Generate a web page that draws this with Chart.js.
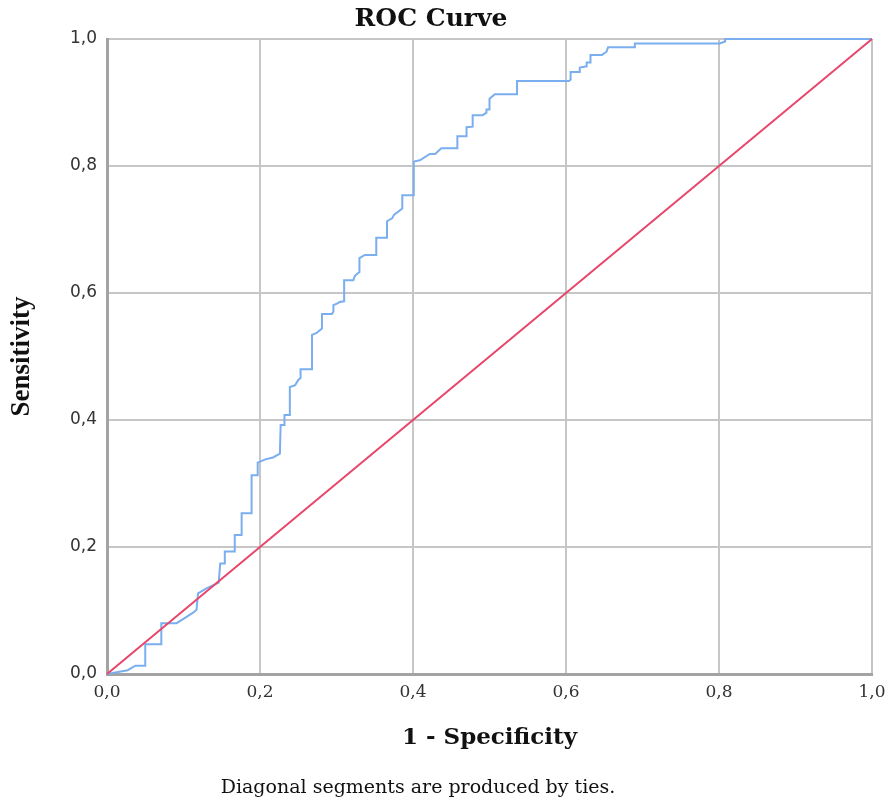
<!DOCTYPE html>
<html>
<head>
<meta charset="utf-8">
<style>
  html, body { margin: 0; padding: 0; background: #ffffff; }
  #wrap { width: 888px; height: 805px; }
</style>
<script src="https://cdn.jsdelivr.net/npm/chart.js@4.4.1/dist/chart.umd.min.js"></script>
</head>
<body>
<div id="wrap"><canvas id="roc-chart" width="888" height="805"></canvas></div>
<script>
// data
var rocX = [0, 0.027, 0.037, 0.050, 0.050, 0.071, 0.071, 0.091, 0.104, 0.113, 0.117, 0.119, 0.130, 0.146,
  0.148, 0.154, 0.154, 0.167, 0.167, 0.176, 0.176, 0.189, 0.189, 0.197, 0.197, 0.207, 0.217, 0.226,
  0.227, 0.232, 0.232, 0.239, 0.239, 0.246, 0.250, 0.253, 0.253, 0.268, 0.268, 0.274, 0.281, 0.281,
  0.294, 0.296, 0.296, 0.302, 0.304, 0.310, 0.310, 0.322, 0.324, 0.330, 0.330, 0.337, 0.352, 0.352,
  0.366, 0.366, 0.373, 0.375, 0.386, 0.386, 0.401, 0.401, 0.409, 0.422, 0.429, 0.437, 0.458, 0.458,
  0.470, 0.470, 0.478, 0.478, 0.491, 0.496, 0.496, 0.500, 0.500, 0.507, 0.536, 0.536, 0.604, 0.606,
  0.606, 0.618, 0.618, 0.627, 0.627, 0.632, 0.632, 0.647, 0.653, 0.655, 0.690, 0.690, 0.801, 0.808,
  0.808, 1.0];
var rocY = [0, 0.006, 0.013, 0.013, 0.047, 0.047, 0.080, 0.080, 0.090, 0.097, 0.101, 0.127, 0.135, 0.144,
  0.174, 0.174, 0.193, 0.193, 0.219, 0.219, 0.253, 0.253, 0.313, 0.313, 0.333, 0.338, 0.341, 0.347,
  0.392, 0.392, 0.408, 0.408, 0.452, 0.455, 0.463, 0.466, 0.480, 0.480, 0.534, 0.537, 0.544, 0.567,
  0.567, 0.571, 0.581, 0.584, 0.586, 0.587, 0.620, 0.620, 0.627, 0.633, 0.655, 0.660, 0.660, 0.687,
  0.687, 0.713, 0.718, 0.723, 0.733, 0.754, 0.754, 0.807, 0.809, 0.819, 0.819, 0.828, 0.828, 0.847,
  0.847, 0.861, 0.862, 0.880, 0.880, 0.884, 0.889, 0.889, 0.906, 0.913, 0.913, 0.934, 0.934, 0.936,
  0.948, 0.948, 0.955, 0.957, 0.963, 0.963, 0.975, 0.975, 0.980, 0.987, 0.987, 0.993, 0.993, 0.996,
  1.0, 1.0];
var diagX = [0, 1];
var diagY = [0, 1];
var tickValues = [0, 0.2, 0.4, 0.6, 0.8, 1.0];

var chartTitle = 'ROC Curve';
var xTitle = '1 - Specificity';
var yTitle = 'Sensitivity';
var footNote = 'Diagonal segments are produced by ties.';

function toPoints(xs, ys) {
  var pts = [];
  for (var i = 0; i < xs.length; i++) {
    pts.push({ x: xs[i], y: ys[i] });
  }
  return pts;
}

function commaTick(value) {
  return Number(value).toFixed(1).replace('.', ',');
}

// title on top, note at the bottom
var textPlugin = {
  id: 'extraText',
  afterDraw: function (chart) {
    var c = chart.ctx;
    c.save();
    c.fillStyle = '#111111';
    c.textAlign = 'center';
    c.textBaseline = 'alphabetic';
    c.font = 'bold 25px "DejaVu Serif"';
    c.fillText(chartTitle, 431, 26);
    c.font = '19px "DejaVu Serif"';
    c.fillText(footNote, 418, 793);
    c.restore();
  }
};

var gridGrey = '#c6c6c6';
var axisGrey = '#a3a3a3';
var biru = '#7aaeef';
var merah = '#e8456a';

var ctx = document.getElementById('roc-chart').getContext('2d');
var myChart = new Chart(ctx, {
  type: 'line',
  data: {
    datasets: [{
      label: 'Reference Line',
      data: toPoints(diagX, diagY),
      borderColor: merah,
      borderWidth: 2,
      pointRadius: 0,
      fill: false,
      tension: 0,
      clip: false
    }, {
      label: 'ROC',
      data: toPoints(rocX, rocY),
      borderColor: biru,
      borderWidth: 2,
      pointRadius: 0,
      fill: false,
      tension: 0,
      clip: false
    }]
  },
  options: {
    responsive: false,
    animation: false,
    layout: { padding: { top: 39, right: 16, bottom: 0, left: 0 } },
    plugins: {
      legend: { display: false },
      tooltip: { enabled: false },
      title: { display: false }
    },
    scales: {
      x: {
        type: 'linear',
        min: 0,
        max: 1,
        afterBuildTicks: function (scale) {
          scale.ticks = tickValues.map(function (v) { return { value: v }; });
        },
        afterFit: function (scale) {
          scale.height = 131;
          scale.paddingLeft = 0;
          scale.paddingRight = 0;
        },
        grid: { color: gridGrey, lineWidth: 2, drawTicks: false },
        border: { color: axisGrey, width: 3 },
        ticks: {
          padding: 8,
          color: '#333333',
          font: { family: '"DejaVu Serif"', size: 17 },
          callback: commaTick,
          maxRotation: 0
        },
        title: {
          display: true,
          text: xTitle,
          color: '#111111',
          font: { family: '"DejaVu Serif"', size: 23, weight: 'bold' },
          padding: { top: 0, bottom: 53 }
        }
      },
      y: {
        type: 'linear',
        min: 0,
        max: 1,
        afterBuildTicks: function (scale) {
          scale.ticks = tickValues.map(function (v) { return { value: v }; });
        },
        afterFit: function (scale) {
          scale.width = 107;
          scale.paddingTop = 0;
          scale.paddingBottom = 0;
        },
        grid: { color: gridGrey, lineWidth: 2, drawTicks: false },
        border: { color: axisGrey, width: 3 },
        ticks: {
          padding: 10,
          color: '#333333',
          font: { family: '"DejaVu Sans"', size: 17 },
          callback: commaTick
        },
        title: {
          display: true,
          text: yTitle,
          color: '#111111',
          font: { family: '"Liberation Serif"', size: 27, weight: 'bold' },
          padding: { top: 6, bottom: 0 }
        }
      }
    }
  },
  plugins: [textPlugin]
});
</script>
</body>
</html>
